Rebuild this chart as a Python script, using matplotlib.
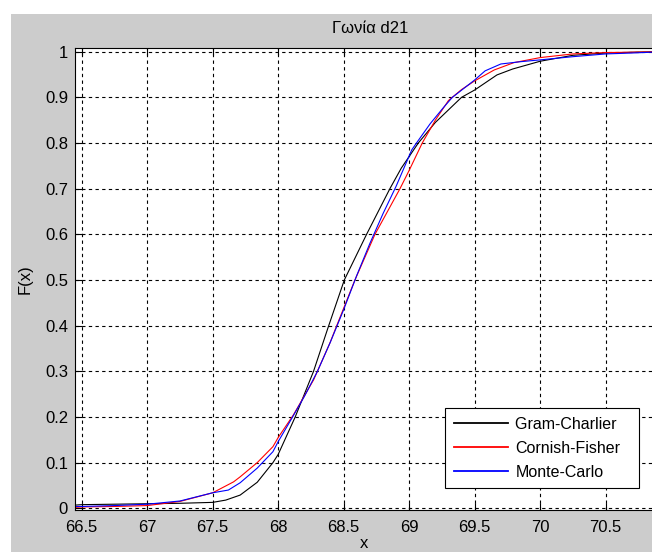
import matplotlib
matplotlib.use("Agg")
import matplotlib.pyplot as plt
from matplotlib.patches import Rectangle

# ---- data ----
gc_x = [66.45, 66.5, 66.75, 67.0, 67.25, 67.5, 67.6, 67.71, 67.84, 67.96, 68.0, 68.13,
        68.27, 68.38, 68.505, 68.675, 68.853, 68.94, 69.07, 69.2, 69.4, 69.5, 69.67,
        69.79, 70.0, 70.25, 70.5, 70.75, 70.95]
gc_F = [0.007, 0.008, 0.009, 0.010, 0.011, 0.013, 0.018, 0.029, 0.057, 0.100, 0.118, 0.200,
        0.300, 0.395, 0.500, 0.600, 0.700, 0.745, 0.800, 0.845, 0.900, 0.916, 0.949,
        0.962, 0.979, 0.992, 0.997, 0.999, 1.0]

cf_x = [66.45, 66.5, 66.75, 67.0, 67.25, 67.5, 67.66, 67.71, 67.84, 67.96, 68.0, 68.115,
        68.27, 68.395, 68.447, 68.586, 68.739, 68.93, 69.0, 69.1, 69.2, 69.3, 69.4, 69.5,
        69.65, 69.8, 70.0, 70.25, 70.5, 70.75, 70.95]
cf_F = [0.002, 0.003, 0.004, 0.006, 0.015, 0.034, 0.058, 0.069, 0.100, 0.135, 0.155, 0.204,
        0.281, 0.362, 0.400, 0.500, 0.600, 0.700, 0.740, 0.800, 0.850, 0.893, 0.917, 0.936,
        0.960, 0.976, 0.987, 0.995, 0.998, 0.999, 1.0]

mc_x = [66.45, 66.5, 66.75, 67.0, 67.25, 67.5, 67.62, 67.71, 67.84, 67.96, 68.0, 68.1,
        68.2, 68.3, 68.4, 68.5, 68.6, 68.7, 68.8, 68.9, 69.02, 69.056, 69.16, 69.26,
        69.33, 69.5, 69.58, 69.7, 69.85, 70.0, 70.25, 70.5, 70.7, 70.95]
mc_F = [0.004, 0.004, 0.006, 0.009, 0.016, 0.034, 0.040, 0.056, 0.088, 0.124, 0.146, 0.195,
        0.245, 0.300, 0.365, 0.435, 0.510, 0.580, 0.645, 0.705, 0.785, 0.800, 0.842, 0.877,
        0.900, 0.938, 0.958, 0.973, 0.978, 0.982, 0.989, 0.995, 0.997, 1.0]

series_names = ["Gram-Charlier", "Cornish-Fisher", "Monte-Carlo"]
title_text = "Γωνία d21"
xticks = [66.5, 67, 67.5, 68, 68.5, 69, 69.5, 70, 70.5]
yticks = [0, 0.1, 0.2, 0.3, 0.4, 0.5, 0.6, 0.7, 0.8, 0.9, 1]

plt.rcParams['font.family'] = ['Liberation Sans', 'DejaVu Sans']

W, H = 652, 552
fig = plt.figure(figsize=(W / 100, H / 100), dpi=100, facecolor='white')
fig.patches.append(Rectangle((11 / W, 0), 1, (H - 14) / H, transform=fig.transFigure,
                             facecolor='#cccccc', edgecolor='none', zorder=-10))

left_px, right_px, top_px, bot_px = 75, 664.6, 48, 510
ax = fig.add_axes([left_px / W, 1 - bot_px / H, (right_px - left_px) / W, (bot_px - top_px) / H])
ax.set_facecolor('white')

ax.plot(gc_x, gc_F, color='black', lw=0.8, label=series_names[0] + "   ")
ax.plot(cf_x, cf_F, color='#ff0000', lw=0.8, label=series_names[1])
ax.plot(mc_x, mc_F, color='#0000ff', lw=0.8, label=series_names[2])

ax.set_xlim(66.449, 70.95)
ax.set_ylim(-0.0037, 1.008)
ax.set_xticks(xticks)
ax.set_xticklabels([f"{t:g}" for t in xticks])
ax.set_yticks(yticks)
ax.set_yticklabels([f"{t:g}" for t in yticks])
ax.tick_params(direction='in', length=5, width=0.8, top=True, right=True,
               labelsize=12, colors='black')
ax.tick_params(axis='x', pad=7)
ax.tick_params(axis='y', pad=5)
ax.grid(True, color='black', linestyle=(0, (3, 3)), linewidth=0.8)
for s in ax.spines.values():
    s.set_color('black')
    s.set_linewidth(0.8)

ax.set_title(title_text, fontsize=12, pad=11)
ax.set_ylabel("F(x)", fontsize=12)
ax.yaxis.set_label_coords(-0.072, 0.5)
ax.set_xlabel("x", fontsize=12)
ax.xaxis.set_label_coords(0.49, -0.0885)
ax.xaxis.label.set_va('bottom')

leg = ax.legend(loc='lower right', bbox_to_anchor=(0.957, 0.047), fontsize=11.5,
                frameon=True, fancybox=False, edgecolor='black', framealpha=1,
                handlelength=3.4, labelspacing=0.55, borderpad=0.55, handletextpad=0.45,
                borderaxespad=0)
leg.get_frame().set_linewidth(0.8)
for h in leg.get_lines():
    h.set_linewidth(1.3)

fig.savefig("out.png", dpi=100, facecolor=fig.get_facecolor())
